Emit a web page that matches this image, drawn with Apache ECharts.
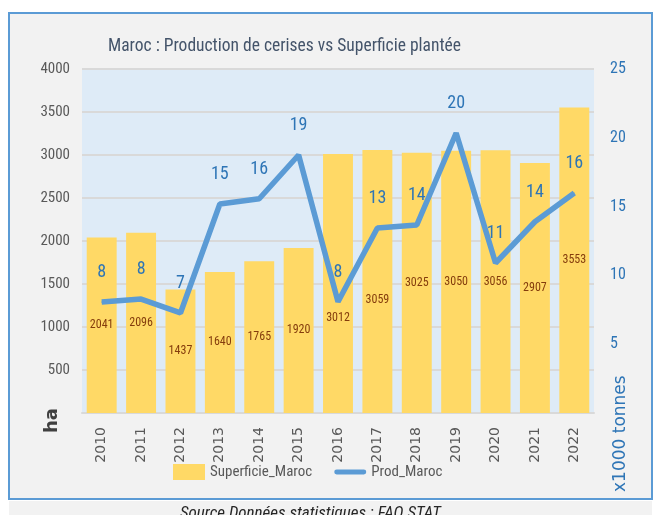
<!DOCTYPE html>
<html><head><meta charset="utf-8">
<script src="https://cdn.jsdelivr.net/npm/echarts@6/dist/echarts.min.js"></script>
<style>html,body{margin:0;padding:0;background:#fff}#c{width:657px;height:515px}</style>
</head><body><div id="c"></div>
<script>
const categories = ['2010','2011','2012','2013','2014','2015','2016','2017','2018','2019','2020','2021','2022'];
const superficie = [2041,2096,1437,1640,1765,1920,3012,3059,3025,3050,3056,2907,3553];
const production = [8.07,8.28,7.27,15.19,15.57,18.75,8.09,13.45,13.66,20.35,10.9,13.9,15.99];
const leftTicks = [0,500,1000,1500,2000,2500,3000,3500,4000];
const rightTicks = [0,5,10,15,20,25];

// manually shifted bar labels (as in the original, moved below the line)
const barLabelShift = {6: 35, 7: 19};

const NARROW = '"Liberation Sans Narrow","Arial Narrow","Roboto Condensed",Roboto,sans-serif';
const chart = echarts.init(document.getElementById('c'), null, {renderer:'canvas'});
chart.setOption({
  backgroundColor: '#ffffff',
  animation: false,
  graphic: [
    {type:'rect', z:-10, shape:{x:9,y:13,width:643,height:486}, style:{fill:'#F2F2F2', stroke:'#5B9BD5', lineWidth:2}},
    {type:'rect', z:-10, shape:{x:9,y:501,width:643,height:20}, style:{fill:'#F2F2F2'}},
    {type:'text', left:180, top:505, style:{text:'Source Données statistiques : FAO STAT', font:'italic 17px '+NARROW, fill:'#262626'}},
    {type:'text', x:43, y:433, rotation:Math.PI/2, style:{text:'ha', font:'bold 18px "DejaVu Sans",sans-serif', fill:'#404040'}},
    {type:'text', x:612, y:492, rotation:Math.PI/2, style:{text:'x1000 tonnes', font:'17px "DejaVu Sans",sans-serif', fill:'#2E75B6'}}
  ],
  title: {
    text: 'Maroc : Production de cerises vs Superficie plantée',
    left: 103, top: 33,
    textStyle: {color:'#44546A', fontSize:17.5, fontWeight:'normal', fontFamily:NARROW}
  },
  legend: {
    left: 168, top: 459,
    itemWidth: 32, itemHeight: 16, itemGap: 22,
    textStyle: {color:'#595959', fontSize:15, fontFamily:NARROW},
    data: [
      {name:'Superficie_Maroc', icon:'rect'},
      {name:'Prod_Maroc', icon:'path://M2,0 L30,0 A2,2 0 0 1 30,5 L2,5 A2,2 0 0 1 2,0 Z'}
    ]
  },
  grid: {left:82, right:63, top:69, bottom:102, show:true, backgroundColor:'#DEEBF7', borderWidth:0},
  xAxis: {
    type:'category', data: categories,
    axisLine:{lineStyle:{color:'#D9D9D9', width:2}},
    axisTick:{show:false},
    axisLabel:{rotate:90, color:'#595959', fontSize:14, fontFamily:'"DejaVu Sans",sans-serif', margin:14}
  },
  yAxis: [
    {type:'value', min:leftTicks[0], max:leftTicks[leftTicks.length-1], interval:500,
     axisLine:{show:false}, axisTick:{show:false},
     axisLabel:{color:'#595959', fontSize:15, fontFamily:NARROW, margin:12,
       formatter: v => v === 0 ? '' : String(v)},
     splitLine:{lineStyle:{color:'#D9D9D9', width:2}}},
    {type:'value', min:rightTicks[0], max:rightTicks[rightTicks.length-1], interval:5,
     axisLine:{show:false}, axisTick:{show:false},
     axisLabel:{color:'#2E75B6', fontSize:16, fontFamily:NARROW, margin:16,
       formatter: v => v === 0 ? '' : String(v)},
     splitLine:{show:false}}
  ],
  series: [
    {name:'Superficie_Maroc', type:'bar', yAxisIndex:0,
     data: superficie.map((v, i) => barLabelShift[i] ? {value:v, label:{offset:[0, barLabelShift[i]]}} : v),
     barCategoryGap:'24%',
     itemStyle:{color:'#FFD966'},
     label:{show:true, position:'inside', color:'#843C0C', fontSize:12, fontFamily:NARROW}},
    {name:'Prod_Maroc', type:'line', data: production, yAxisIndex:1,
     symbol:'circle', symbolSize:1, showSymbol:true,
     lineStyle:{color:'#5B9BD5', width:5.5}, itemStyle:{color:'#5B9BD5'},
     label:{show:true, position:'top', distance:20, color:'#2E75B6', fontSize:18, fontFamily:NARROW,
       formatter: p => String(Math.round(p.value))}}
  ]
});
</script></body></html>
